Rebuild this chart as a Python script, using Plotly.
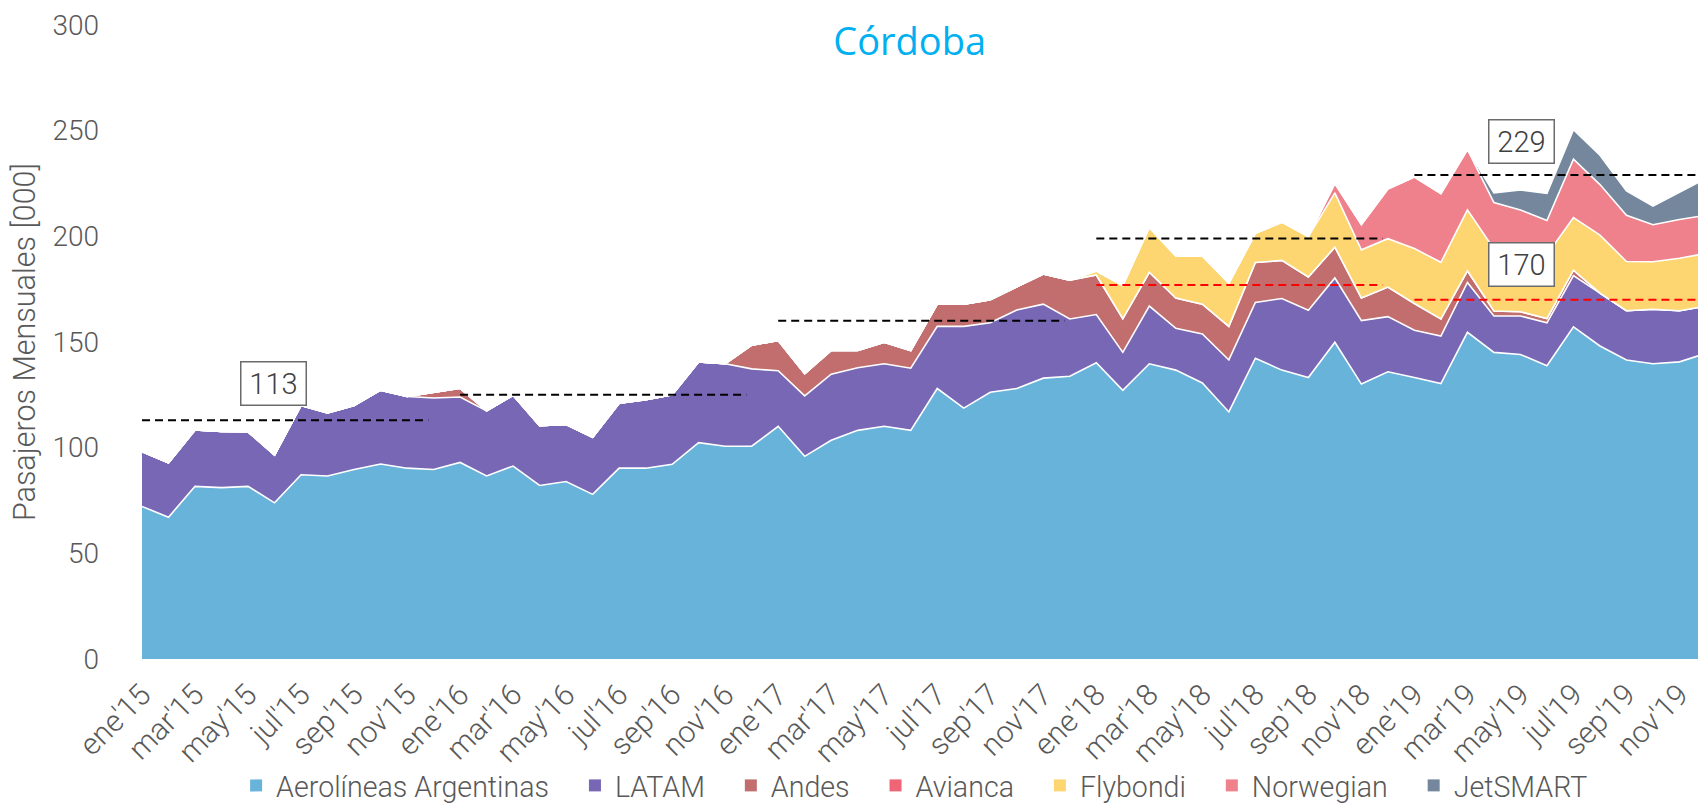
import plotly.graph_objects as go

# ---------------- data ----------------
month_abbr = ["ene", "feb", "mar", "abr", "may", "jun", "jul", "ago", "sep", "oct", "nov", "dic"]
years = ["15", "16", "17", "18", "19"]
months = [f"{m}'{y}" for y in years for m in month_abbr]

aerolineas = [72.2, 67.1, 81.7, 81.1, 81.7, 73.9, 87.2, 86.6, 89.7, 92.3, 90.3, 89.7,
              93.0, 86.6, 91.3, 82.1, 84.0, 77.9, 90.3, 90.3, 92.1, 102.4, 100.7, 100.7,
              110.1, 95.9, 103.5, 108.2, 110.1, 108.2, 128.0, 118.7, 126.2, 128.0, 132.9, 133.8,
              140.2, 127.1, 139.7, 136.7, 130.6, 116.9, 142.3, 136.7, 133.2, 149.9, 130.1, 135.9,
              133.2, 130.3, 154.6, 145.1, 144.1, 138.8, 157.2, 148.1, 141.5, 139.7, 140.6, 144.6]
latam = [25.9, 25.7, 26.7, 26.6, 25.8, 22.6, 32.8, 29.8, 30.3, 34.9, 33.9, 33.8,
         31.0, 30.8, 33.5, 28.3, 27.0, 27.0, 30.7, 32.4, 32.9, 38.2, 39.0, 36.6,
         26.3, 28.6, 31.3, 29.6, 29.6, 29.4, 29.4, 38.7, 32.9, 37.1, 35.0, 27.1,
         22.8, 18.0, 27.3, 19.8, 23.2, 24.6, 26.4, 33.9, 31.8, 30.4, 30.0, 26.1,
         22.4, 22.5, 23.6, 17.2, 18.2, 20.3, 24.2, 25.0, 23.3, 25.8, 24.2, 22.4]
andes = [0, 0, 0, 0, 0, 0, 0, 0, 0, 0, 0, 2.7,
         4.1, 0, 0, 0, 0, 0, 0, 0, 0, 0, 0, 11.2,
         14.3, 10.5, 11.2, 8.2, 10.2, 8.4, 10.5, 10.5, 10.9, 11.0, 14.3, 18.4,
         18.7, 15.9, 16.0, 14.3, 14.1, 15.9, 18.9, 18.0, 15.8, 14.6, 10.7, 14.0,
         12.6, 8.1, 5.5, 2.4, 2.0, 2.0, 2.6, 0, 0, 0, 0, 0]
avianca = [0] * 60
flybondi = [0] * 36 + [1.9, 15.8, 21.2, 19.9, 22.8, 20.5, 13.8, 18.1, 19.1, 25.7, 22.8, 22.9,
                       26.0, 26.8, 28.8, 29.3, 28.7, 30.2, 24.9, 27.5, 23.3, 22.5, 24.8, 24.9]
norwegian = [0] * 45 + [4.4, 12.0, 23.5,
                        33.9, 32.5, 28.6, 22.0, 19.5, 16.2, 27.6, 23.9, 21.9, 17.5, 18.4, 18.1]
jetsmart = [0] * 51 + [4.5, 9.5, 12.8, 14.0, 13.9, 11.5, 8.8, 12.8, 17.4]

series_names = ["Aerolíneas Argentinas", "LATAM", "Andes", "Avianca", "Flybondi", "Norwegian", "JetSMART"]
series_values = [aerolineas, latam, andes, avianca, flybondi, norwegian, jetsmart]
series_colors = ["#67B3DA", "#7767B5", "#C26E6E", "#EF6476", "#FDD671", "#EE818B", "#74879C"]

# yearly averages (dashed reference lines)
avg_total = [113, 125, 160, 199, 229]
avg_total_start = [0, 12, 24, 36, 48]
avg_trad = [177, 170]
avg_trad_start = [36, 48]
boxed_labels = ["113", "229", "170"]

tick_idx = list(range(0, 60, 2))
tick_text = [months[i] for i in tick_idx]

# ---------------- figure ----------------
FONT = "Roboto"
GRAY = "#595959"
x = list(range(60))

fig = go.Figure()
for name, vals, col in zip(series_names, series_values, series_colors):
    fig.add_trace(go.Scatter(
        x=x, y=vals, name=name, stackgroup="one", mode="lines",
        line=dict(color="white", width=1.6), fillcolor=col,
        showlegend=False, hoverinfo="x+y+name"))
# legend entries (square markers); trailing no-break spaces widen the gap between entries
PAD = "\u00a0\u00a0\u00a0"
for k, (name, col) in enumerate(zip(series_names, series_colors)):
    label = name + (PAD if k < len(series_names) - 1 else "")
    fig.add_trace(go.Scatter(
        x=[None], y=[None], name=label, mode="markers",
        marker=dict(symbol="square", size=12, color=col), showlegend=True))

shapes = []
for v, s in zip(avg_total, avg_total_start):
    e = 59 if s == 48 else s + 10.8
    shapes.append(dict(type="line", xref="x", yref="y", x0=s, x1=e, y0=v, y1=v,
                       line=dict(color="black", width=2, dash="8px,5px")))
for v, s in zip(avg_trad, avg_trad_start):
    e = 59 if s == 48 else s + 10.8
    shapes.append(dict(type="line", xref="x", yref="y", x0=s, x1=e, y0=v, y1=v,
                       line=dict(color="#FF0000", width=2, dash="8px,5px")))

annotations = []
box_pos = [(4.95, 130.2), (52.05, 245.0), (52.05, 186.8)]
for txt, (bx, by) in zip(boxed_labels, box_pos):
    annotations.append(dict(x=bx, y=by, xref="x", yref="y", text=txt, showarrow=False,
                            font=dict(family=FONT, size=29, color="#404040", weight=300),
                            bgcolor="white", bordercolor="#6b6b6b", borderwidth=1.5,
                            borderpad=1, width=62, height=40))
annotations.append(dict(x=-0.0754, y=0.5, xref="paper", yref="paper",
                        xanchor="center", yanchor="middle",
                        text="Pasajeros Mensuales [000]", textangle=-90, showarrow=False,
                        font=dict(family=FONT, size=30.5, color=GRAY, weight=300)))

# page body has an 8px default margin: size the figure so it fills the 1706x804 window
fig.update_layout(
    width=1698, height=796,
    margin=dict(l=134, r=0, t=17, b=145, autoexpand=False),
    paper_bgcolor="white", plot_bgcolor="white",
    title=dict(text="Córdoba", x=0.531, xref="container", xanchor="center",
               y=0.958, yref="container", yanchor="middle",
               font=dict(family="Open Sans", size=38, color="#00B0F0")),
    xaxis=dict(range=[0, 59], tickmode="array", tickvals=tick_idx, ticktext=tick_text,
               tickangle=-45, showgrid=False, zeroline=False, showline=False,
               automargin=False, ticklabelstandoff=11,
               tickfont=dict(family=FONT, size=30, color=GRAY, weight=300)),
    yaxis=dict(range=[0, 300], dtick=50, showgrid=False, zeroline=False, showline=False,
               automargin=False, ticklabelstandoff=42,
               tickfont=dict(family=FONT, size=28, color=GRAY, weight=300)),
    legend=dict(orientation="h", x=0.494, xanchor="center", y=-0.2, yanchor="middle",
                bgcolor="rgba(0,0,0,0)",
                font=dict(family=FONT, size=28.6, color=GRAY, weight=300),
                traceorder="normal"),
    shapes=shapes, annotations=annotations,
    showlegend=True,
)

fig.write_html("out.html")
